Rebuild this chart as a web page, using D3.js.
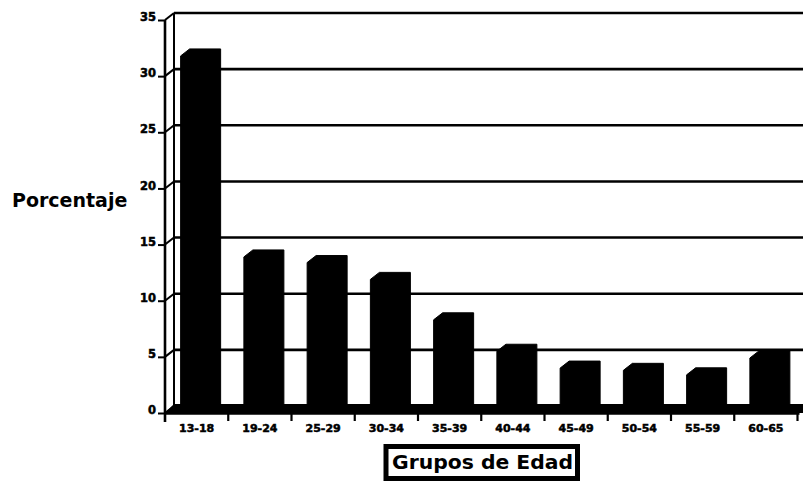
<!DOCTYPE html>
<html>
<head>
<meta charset="utf-8">
<script src="https://cdn.jsdelivr.net/npm/d3@7"></script>
<style>
  html, body { margin: 0; padding: 0; background: #fff; }
  svg { display: block; }
  text { font-family: "DejaVu Sans", "Liberation Sans", sans-serif; font-weight: bold; fill: #000; }
</style>
</head>
<body>
<svg id="chart" width="803" height="486"></svg>
<script>
// Age groups and share of cases (%)
const categories = ["13-18", "19-24", "25-29", "30-34", "35-39", "40-44", "45-49", "50-54", "55-59", "60-65"];
const percentages = [31.8, 13.9, 13.4, 11.9, 8.3, 5.5, 4.0, 3.8, 3.4, 4.9];
const yTicks = [0, 5, 10, 15, 20, 25, 30, 35];
const yTitle = "Porcentaje";
const xTitle = "Grupos de Edad";

const svg = d3.select("#chart");
const W = 803;

// front plane of the pseudo-3D frame, and the depth offset to the back wall
const plotLeft = 165, plotRight = 797.5, plotTop = 20, plotBottom = 413;
const dx = 9, dy = 7;

const x = d3.scaleBand().domain(categories).range([plotLeft, plotRight]).paddingInner(0).paddingOuter(0);
const y = d3.scaleLinear().domain([0, 35]).range([plotBottom, plotTop]);

const ink = "#000";
const lw = 2.6;

// floor slab
svg.append("path")
  .attr("d", `M${plotLeft},${plotBottom} L${plotLeft + dx},${plotBottom - dy - 2} L${W},${plotBottom - dy - 2} L${W},${plotBottom} Z`)
  .attr("fill", ink);

// back-wall gridlines
svg.append("g").selectAll("line").data(yTicks).join("line")
  .attr("x1", plotLeft + dx).attr("x2", W)
  .attr("y1", d => y(d) - dy).attr("y2", d => y(d) - dy)
  .attr("stroke", ink).attr("stroke-width", lw);

// connectors from front axis ticks to back wall
svg.append("g").selectAll("line").data(yTicks).join("line")
  .attr("x1", plotLeft).attr("x2", plotLeft + dx)
  .attr("y1", d => y(d)).attr("y2", d => y(d) - dy)
  .attr("stroke", ink).attr("stroke-width", 2);

// back wall edge and front vertical axis
svg.append("line")
  .attr("x1", plotLeft + dx).attr("x2", plotLeft + dx)
  .attr("y1", y(35) - dy).attr("y2", y(0) - dy)
  .attr("stroke", ink).attr("stroke-width", 2);
svg.append("line")
  .attr("x1", plotLeft).attr("x2", plotLeft)
  .attr("y1", y(35)).attr("y2", y(0) + 9)
  .attr("stroke", ink).attr("stroke-width", lw);

// y axis ticks and labels
const yAxis = d3.axisLeft(y).tickValues(yTicks).tickSize(7).tickPadding(2).tickFormat(d3.format("d"));
const gy = svg.append("g").attr("transform", `translate(${plotLeft},0)`).call(yAxis);
gy.select(".domain").remove();
gy.selectAll(".tick line").attr("stroke", ink).attr("stroke-width", 2);
gy.selectAll(".tick text")
  .attr("font-size", 11.5).attr("dy", "0.05em")
  .attr("stroke", ink).attr("stroke-width", 0.5)
  .style("font-family", "'DejaVu Sans', sans-serif").style("font-weight", "bold");

// bars drawn as solid prisms: front face, top face and right side
const barW = 31;
const bars = svg.append("g");
categories.forEach((c, i) => {
  const v = percentages[i];
  const cx = x(c) + x.bandwidth() / 2 - 0.5;
  const x0 = cx - barW / 2, x1 = cx + barW / 2;
  const yt = y(v), yb = y(0);
  bars.append("path")
    .attr("d", `M${x0},${yb} L${x0},${yt} L${x0 + dx},${yt - dy} L${x1 + dx},${yt - dy} L${x1 + dx},${yb - dy} L${x1},${yb} Z`)
    .attr("fill", ink).attr("stroke", ink).attr("stroke-width", 1);
});

// x axis line with ticks at group boundaries
const xAxis = d3.axisBottom(x).tickSize(0).tickPadding(16);
const gx = svg.append("g").attr("transform", `translate(0,${plotBottom})`).call(xAxis);
gx.select(".domain").attr("stroke", ink).attr("stroke-width", lw)
  .attr("d", `M${plotLeft},0.5H${plotRight + 2}`);
gx.selectAll(".tick text")
  .attr("font-size", 11).attr("dy", "0.3em")
  .attr("stroke", ink).attr("stroke-width", 0.5)
  .style("font-family", "'DejaVu Sans', sans-serif").style("font-weight", "bold");
svg.append("g").selectAll("line")
  .data(categories.slice(1).map(c => x(c)).concat([plotRight]))
  .join("line")
  .attr("x1", d => d).attr("x2", d => d)
  .attr("y1", plotBottom).attr("y2", plotBottom + 8)
  .attr("stroke", ink).attr("stroke-width", 2.2);

// axis titles
svg.append("text")
  .attr("x", 12).attr("y", 207)
  .attr("font-size", 19)
  .text(yTitle);

const boxG = svg.append("g");
const frame = boxG.append("rect");
const xt = boxG.append("text")
  .attr("x", 392).attr("y", 469)
  .attr("font-size", 20)
  .attr("textLength", 181).attr("lengthAdjust", "spacingAndGlyphs")
  .text(xTitle);
frame
  .attr("x", 386).attr("y", 446.5)
  .attr("width", 191.5).attr("height", 32)
  .attr("fill", "#fff").attr("stroke", ink).attr("stroke-width", 5);
</script>
</body>
</html>
